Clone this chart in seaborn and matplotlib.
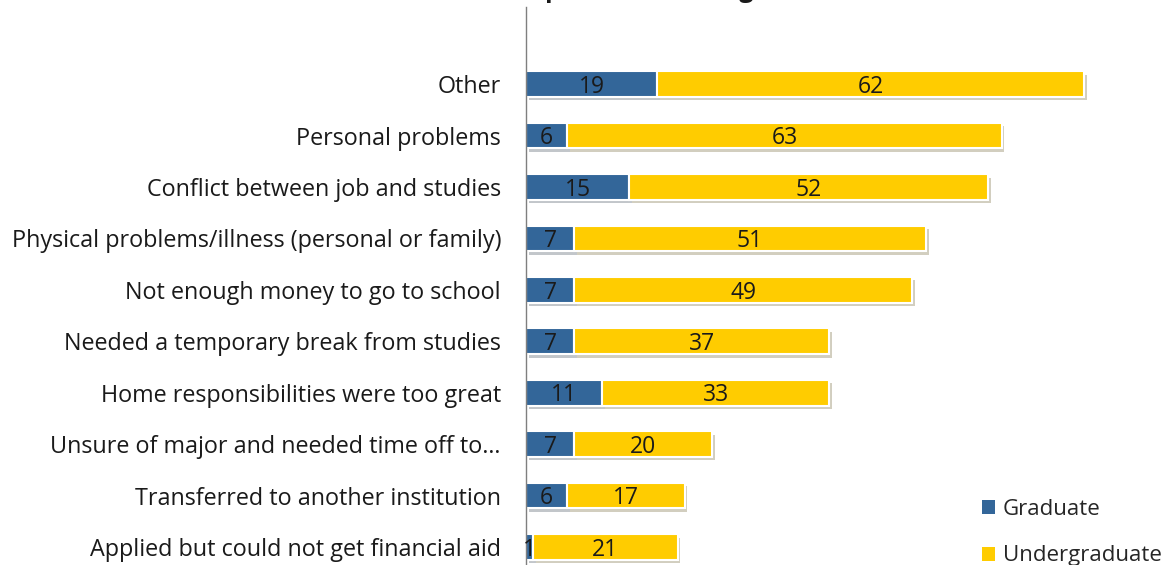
import matplotlib.pyplot as plt
import matplotlib.patheffects as pe
import seaborn as sns
import numpy as np
import pandas as pd

reasons = [
    "Other",
    "Personal problems",
    "Conflict between job and studies",
    "Physical problems/illness (personal or family)",
    "Not enough money to go to school",
    "Needed a temporary break from studies",
    "Home responsibilities were too great",
    "Unsure of major and needed time off to\u2026",
    "Transferred to another institution",
    "Applied but could not get financial aid",
]
graduate = [19, 6, 15, 7, 7, 7, 11, 7, 6, 1]
undergraduate = [62, 63, 52, 51, 49, 37, 33, 20, 17, 21]

blue = "#336699"
yellow = "#FFCC00"

sns.set_theme(style="white")
plt.rcParams['font.family'] = ['Open Sans', 'DejaVu Sans']

df = pd.DataFrame({"reason": reasons, "grad": graduate, "ug": undergraduate})

fig = plt.figure(figsize=(11.74, 5.65), dpi=100)
ax = fig.add_axes([526 / 1174, 0, (1174 - 526) / 1174, (565 - 7) / 565])

sns.barplot(data=df, x="grad", y="reason", color=blue, saturation=1,
            width=0.5, edgecolor="white", linewidth=1.5, ax=ax,
            label="Graduate")
pos = np.arange(len(reasons))
ax.barh(pos, undergraduate, left=graduate, height=0.5, color=yellow,
        edgecolor="white", linewidth=1.5, label="Undergraduate")

shadow = [pe.SimplePatchShadow(offset=(2, -2.5), alpha=0.25), pe.Normal()]
for p in ax.patches:
    p.set_path_effects(shadow)

for c in ax.containers:
    texts = ax.bar_label(c, label_type="center", fontsize=16.5, color="#1a1a1a")
    for t in texts:
        t.xyann = (0, -2)

ax.set_xlim(0, 94)
ax.set_ylim(9.35, -1.5)
ax.set_xlabel("")
ax.set_ylabel("")
ax.set_xticks([])
ax.tick_params(axis="y", length=0, pad=18, labelsize=16.8, labelcolor="#1a1a1a")
for s in ["top", "right", "bottom"]:
    ax.spines[s].set_visible(False)
ax.spines["left"].set_color("#7f7f7f")
ax.spines["left"].set_linewidth(1)

leg = ax.legend(loc="upper left", bbox_to_anchor=(973 / 1174, 1 - 490 / 565),
                bbox_transform=fig.transFigure, frameon=False, fontsize=16,
                handlelength=0.6, handleheight=0.6, handletextpad=0.35,
                labelspacing=1.15, borderaxespad=0)
for h in leg.legend_handles:
    h.set_path_effects([])
    h.set_edgecolor("none")

fig.text(600 / 1174, 1.006, "Combined Responses of 10 or greater",
         ha="center", va="baseline", fontsize=18, fontweight="bold",
         color="#1a1a1a")

plt.savefig("out.png", dpi=100)
plt.close()
